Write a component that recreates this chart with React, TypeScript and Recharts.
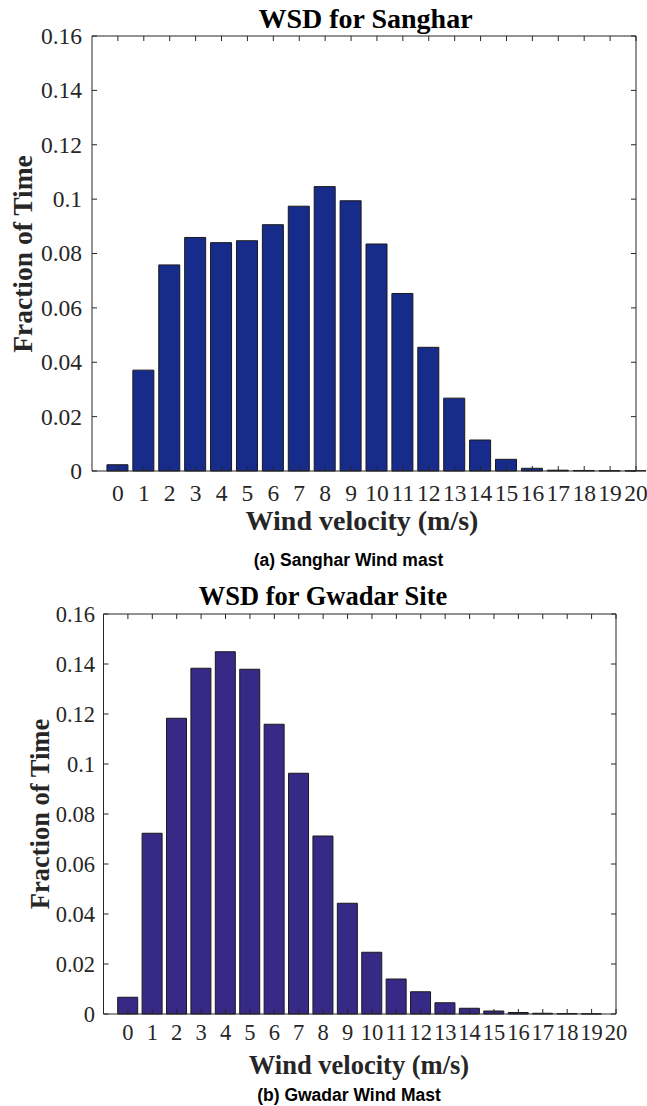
import React from 'react'
import { BarChart, Bar, XAxis, YAxis, ReferenceLine } from 'recharts'

// wind speed bins (m/s) and the fraction of time in each bin
const speeds = [0, 1, 2, 3, 4, 5, 6, 7, 8, 9, 10, 11, 12, 13, 14, 15, 16, 17, 18, 19, 20]
const sangharFraction = [
  0.0023, 0.0371, 0.0758, 0.0859, 0.084, 0.0847, 0.0906, 0.0974, 0.1046, 0.0994, 0.0835,
  0.0653, 0.0455, 0.0268, 0.0114, 0.0043, 0.001, 0.0003, 0.0002, 0.0001, 0.0001,
]
const gwadarFraction = [
  0.0067, 0.0723, 0.1183, 0.1383, 0.1449, 0.1379, 0.1159, 0.0963, 0.0712, 0.0443, 0.0247,
  0.014, 0.0089, 0.0045, 0.0023, 0.0012, 0.0006, 0.0003, 0.0002, 0.0001, 0,
]
const fractionTicks = [0, 0.02, 0.04, 0.06, 0.08, 0.1, 0.12, 0.14, 0.16]

const sangharData = speeds.map((speed, i) => ({ speed, fraction: sangharFraction[i] }))
const gwadarData = speeds.map((speed, i) => ({ speed, fraction: gwadarFraction[i] }))

const serif = '"Liberation Serif", "Times New Roman", serif'
const sans = '"Liberation Sans", Arial, sans-serif'
const ink = '#262626'
const fmt = (v: number) => String(Number(v.toFixed(2)))

type PanelProps = {
  data: { speed: number; fraction: number }[]
  fill: string
  top: number
  height: number
  margin: { top: number; right: number; bottom: number; left: number }
  yAxisWidth: number
  barSize: number
  tickFont: number
  xLabelGap: number
  yLabelGap: number
}

const Panel = ({ data, fill, top, height, margin, yAxisWidth, barSize, tickFont, xLabelGap, yLabelGap }: PanelProps) => {
  const plotTop = margin.top
  const plotRight = 647 - margin.right

  // MATLAB style: ticks point inward, mirrored on the top and right edges
  const bottomTick = (props: any) => {
    const { x, y, payload } = props
    return (
      <g>
        <line x1={x} x2={x} y1={y} y2={y - 5} stroke={ink} />
        <line x1={x} x2={x} y1={plotTop} y2={plotTop + 5} stroke={ink} />
        <text x={x} y={y + xLabelGap} textAnchor="middle" fontFamily={serif} fontSize={tickFont} fill={ink}>
          {payload.value}
        </text>
      </g>
    )
  }
  const leftTick = (props: any) => {
    const { x, y, payload } = props
    return (
      <g>
        <line x1={x} x2={x + 5} y1={y} y2={y} stroke={ink} />
        <line x1={plotRight} x2={plotRight - 5} y1={y} y2={y} stroke={ink} />
        <text x={x - yLabelGap} y={y + tickFont * 0.34} textAnchor="end" fontFamily={serif} fontSize={tickFont} fill={ink}>
          {fmt(payload.value)}
        </text>
      </g>
    )
  }

  return (
    <div style={{ position: 'absolute', left: 0, top }}>
      <BarChart width={647} height={height} data={data} margin={margin}>
        <XAxis
          xAxisId="b"
          dataKey="speed"
          type="number"
          domain={[-1, 20]}
          ticks={speeds}
          interval={0}
          height={40}
          tickSize={0}
          tickMargin={0}
          tickLine={false}
          axisLine={{ stroke: ink }}
          tick={bottomTick}
        />
        <YAxis
          yAxisId="l"
          type="number"
          domain={[0, 0.16]}
          ticks={fractionTicks}
          interval={0}
          width={yAxisWidth}
          tickSize={0}
          tickMargin={0}
          tickLine={false}
          axisLine={{ stroke: ink }}
          tick={leftTick}
        />
        <Bar
          xAxisId="b"
          yAxisId="l"
          dataKey="fraction"
          fill={fill}
          stroke="#1a1a1a"
          strokeWidth={1}
          barSize={barSize}
          isAnimationActive={false}
        />
        <ReferenceLine xAxisId="b" yAxisId="l" y={0.16} stroke={ink} />
        <ReferenceLine xAxisId="b" yAxisId="l" x={20} stroke={ink} />
      </BarChart>
    </div>
  )
}

const App = () => {
  return (
    <div style={{ position: 'absolute', left: 0, top: 0, width: 647, height: 1106, background: '#fff' }}>
      <Panel
        data={sangharData}
        fill="#162b8a"
        top={0}
        height={575}
        margin={{ top: 36, right: 11, bottom: 64, left: 0 }}
        yAxisWidth={92}
        barSize={21}
        tickFont={23.5}
        xLabelGap={30}
        yLabelGap={10}
      />
      <Panel
        data={gwadarData}
        fill="#362a86"
        top={580}
        height={526}
        margin={{ top: 34, right: 31, bottom: 52, left: 0 }}
        yAxisWidth={103.5}
        barSize={20}
        tickFont={22.5}
        xLabelGap={26}
        yLabelGap={8.5}
      />
      <svg width={647} height={1106} style={{ position: 'absolute', left: 0, top: 0, pointerEvents: 'none' }}>
        <g fontFamily={serif} fontWeight="bold" textAnchor="middle">
          <text x={365.5} y={28} fontSize={28} fill="#000">WSD for Sanghar</text>
          <text x={32} y={254} fontSize={27.5} fill={ink} transform="rotate(-90 32 254)">Fraction of Time</text>
          <text x={362} y={530} fontSize={28} fill={ink}>Wind velocity (m/s)</text>
          <text x={323} y={605} fontSize={26.5} fill="#000">WSD for Gwadar Site</text>
          <text x={49} y={814} fontSize={26.5} fill={ink} transform="rotate(-90 49 814)">Fraction of Time</text>
          <text x={359} y={1074} fontSize={26.5} fill={ink}>Wind velocity (m/s)</text>
        </g>
        <g fontFamily={sans} fontWeight="bold" textAnchor="middle" fontSize={17.5} fill="#000">
          <text x={348.5} y={565.5}>(a) Sanghar Wind mast</text>
          <text x={349} y={1101}>(b) Gwadar Wind Mast</text>
        </g>
      </svg>
    </div>
  )
}

export default App
